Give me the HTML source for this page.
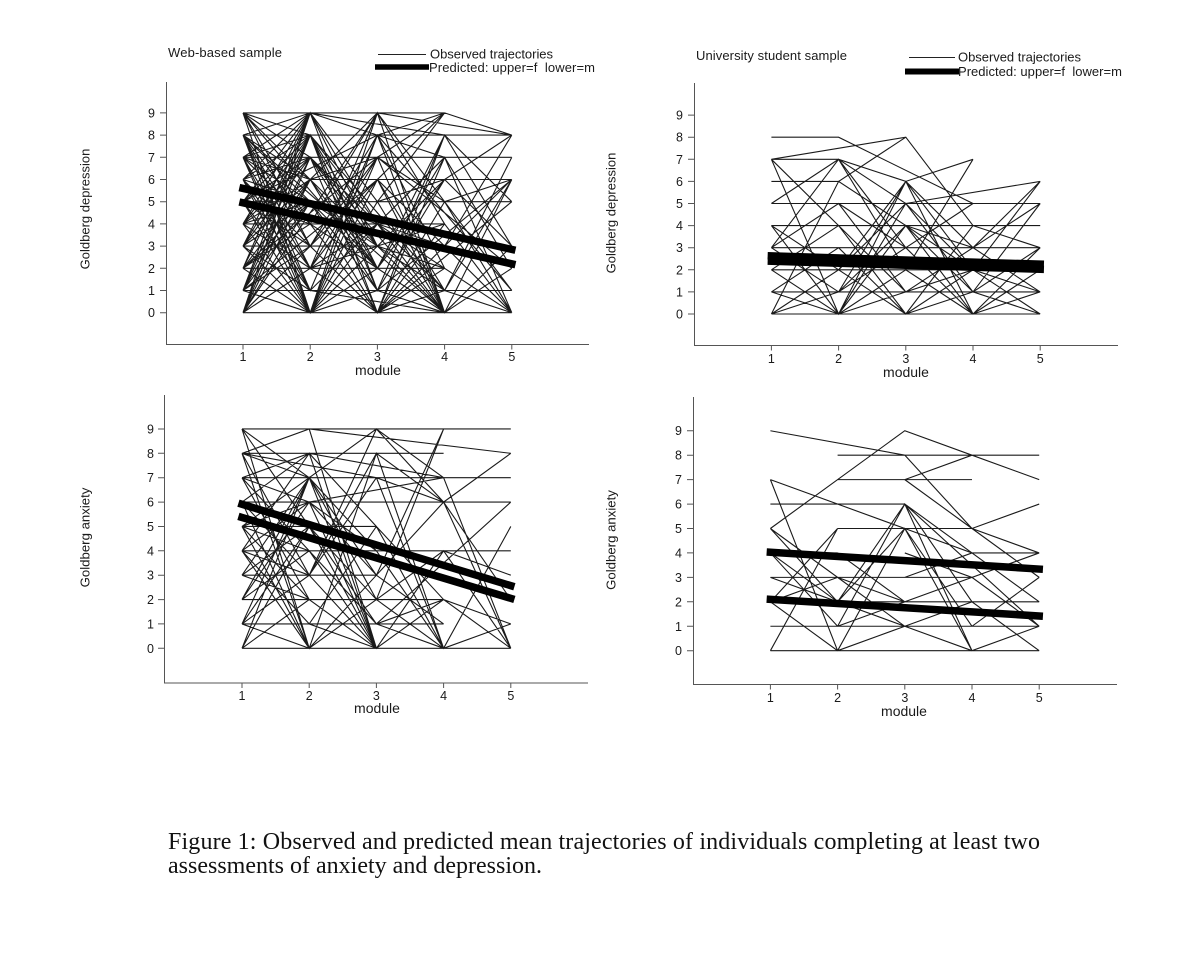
<!DOCTYPE html>
<html><head><meta charset="utf-8"><style>
html,body{margin:0;padding:0;background:#fff;}
svg{display:block;}
text{font-family:"Liberation Sans",Arial,sans-serif;fill:#1a1a1a;}
.cap{font-family:"Liberation Serif","Times New Roman",serif;fill:#111;}
.obs path{fill:none;stroke:#1a1a1a;stroke-width:1.1;vector-effect:non-scaling-stroke;stroke-linejoin:miter;}
.pred{fill:none;stroke:#000;stroke-width:7.5;vector-effect:non-scaling-stroke;stroke-linecap:square;}
.ax{stroke:#555;stroke-width:1;fill:none;}
.tk{font-size:12.5px;}
</style></head><body>
<svg width="1195" height="960" viewBox="0 0 1195 960" xmlns="http://www.w3.org/2000/svg">
<rect width="1195" height="960" fill="#fff"/>

<!-- ================= TOP LEFT ================= -->
<text x="168" y="57" font-size="13" textLength="114" lengthAdjust="spacing">Web-based sample</text>
<line x1="378" y1="54.5" x2="426" y2="54.5" stroke="#222" stroke-width="1"/>
<text x="430" y="58.5" font-size="13" textLength="123" lengthAdjust="spacing">Observed trajectories</text>
<line x1="375" y1="67" x2="429" y2="67" stroke="#000" stroke-width="5.5"/>
<text x="429" y="72" font-size="13" textLength="166" lengthAdjust="spacing">Predicted: upper=f&#160; lower=m</text>

<path class="ax" d="M166.5 82V344.5H589"/>
<path class="ax" d="M160 312.7H166.5M160 290.5H166.5M160 268.3H166.5M160 246.1H166.5M160 223.9H166.5M160 201.7H166.5M160 179.5H166.5M160 157.3H166.5M160 135.1H166.5M160 112.9H166.5M243 344.5V349.5M310.2 344.5V349.5M377.4 344.5V349.5M444.6 344.5V349.5M511.8 344.5V349.5"/>
<g class="tk" text-anchor="end">
<text x="155" y="317.2">0</text><text x="155" y="295">1</text><text x="155" y="272.8">2</text><text x="155" y="250.6">3</text><text x="155" y="228.4">4</text><text x="155" y="206.2">5</text><text x="155" y="184">6</text><text x="155" y="161.8">7</text><text x="155" y="139.6">8</text><text x="155" y="117.4">9</text>
</g>
<g class="tk" text-anchor="middle">
<text x="243" y="361">1</text><text x="310.2" y="361">2</text><text x="377.4" y="361">3</text><text x="444.6" y="361">4</text><text x="511.8" y="361">5</text>
</g>
<text x="378" y="375" font-size="14" text-anchor="middle">module</text>
<text transform="translate(89.5,209) rotate(-90)" font-size="13" text-anchor="middle">Goldberg depression</text>

<g transform="translate(243,312.7) scale(67.2,-22.2)">
<g class="obs"><path d="M0 9L3 9M0 8L4 8M0 7L3 7M1 6L4 6M0 5L4 5M0 4L3 4M0 3L2 3M0 2L3 2M0 1L4 1M0 0L4 0
M0 9L1 0L2 3L3 0L4 2M0 9L1 4L2 9L3 5L4 0M0 9L1 8L2 1L3 6L4 8M0 9L1 7L2 0M0 9L2 2
M0 8L1 0L2 5L3 9M0 8L1 2L2 7L3 0M0 8L1 5L2 0L3 7L4 7M0 8L1 9L2 8L3 9M0 8L1 3L2 6L3 0M0 8L2 0M0 8L3 0
M0 7L1 0L2 8L3 7L4 0M0 7L1 1L2 4L3 0M0 7L1 4L2 0L3 2M0 7L1 6L2 9L3 4L4 0M0 7L1 8L2 2L3 6M0 7L1 9L2 3L3 1L4 6M0 7L2 3
M0 6L1 0L2 6L3 3L4 8M0 6L1 2L2 9L3 0M0 6L1 8L2 4L3 1M0 6L1 3L2 7L3 5L4 0M0 6L2 0M0 6L1 5L2 2L3 8L4 3
M0 5L1 0L2 1L3 0M0 5L1 1L2 8L3 2L4 0M0 5L1 7L2 0L3 8M0 5L1 9L2 5L3 0L4 3M0 5L1 3L2 0M0 5L2 8
M0 4L1 0L2 7L3 9M0 4L1 8L2 0L3 3L4 6M0 4L1 6L2 2L3 0M0 4L1 2L2 6L3 1L4 0M0 4L1 7L2 4L3 7L4 2M0 4L2 0
M0 3L1 0L2 2L3 6M0 3L1 7L2 0L3 4M0 3L1 9L2 4L3 0L4 6M0 3L1 5L2 1L3 0M0 3L1 1L2 8M0 3L2 9
M0 2L1 0L2 9L3 5M0 2L1 6L2 1L3 8L4 5M0 2L1 8L2 3L3 0M0 2L1 4L2 0L3 1L4 7M0 2L2 7
M0 1L1 0L2 4L3 0M0 1L1 5L2 0L3 3M0 1L1 7L2 2L3 7L4 2M0 1L1 9L2 1L3 0M0 1L1 3L2 6M0 1L2 6
M0 0L1 3L2 8L3 0M0 0L1 5L2 0L3 5L4 1M0 0L1 7L2 3L3 2M0 0L1 8L2 1L3 0L4 3M0 0L1 9L2 5L3 6M0 0L1 2L2 0M0 0L2 4M0 0L2 9M0 0L1 6L2 7L3 0
M0 9L1 6M0 8L1 6M0 6L1 9M0 5L1 5M0 4L1 4M0 3L1 3M0 2L1 2M0 1L1 1M0 7L1 5M0 6L1 7
M0 9L1 3M0 8L1 4M0 7L1 2M0 5L1 4M0 4L1 9M0 3L1 8M0 2L1 9M0 1L1 8M0 6L1 1M0 5L1 8M0 4L1 5M0 3L1 6M0 2L1 5M0 1L1 6M0 8L1 1
M1 9L3 8M1 8L3 1M1 7L3 0M1 6L3 0M1 5L3 3L4 0M1 4L3 0M1 3L3 9M1 2L3 4M1 0L3 6L4 8M1 1L3 0
M2 9L4 8M2 7L4 2M2 4L4 0M2 1L4 6M2 0L4 5M2 8L4 1
M3 9L4 8M3 7L4 0M3 5L4 0M3 4L4 0M3 3L4 8M3 2L4 0M3 1L4 7M3 0L4 3M3 6L4 3M3 0L4 6M3 8L4 8M3 5L4 6"/></g>
<path class="pred" d="M0 5.6L4 2.85"/>
<path class="pred" d="M0 4.95L4 2.2"/>
</g>

<!-- ================= TOP RIGHT ================= -->
<text x="696" y="60" font-size="13" textLength="151" lengthAdjust="spacing">University student sample</text>
<line x1="909" y1="57.5" x2="955" y2="57.5" stroke="#222" stroke-width="1"/>
<text x="958" y="61.5" font-size="13" textLength="123" lengthAdjust="spacing">Observed trajectories</text>
<line x1="905" y1="71.5" x2="959" y2="71.5" stroke="#000" stroke-width="6"/>
<text x="958" y="76" font-size="13" textLength="164" lengthAdjust="spacing">Predicted: upper=f&#160; lower=m</text>

<path class="ax" d="M694.5 83V345.5H1118"/>
<path class="ax" d="M688 314H694.5M688 291.9H694.5M688 269.8H694.5M688 247.7H694.5M688 225.6H694.5M688 203.5H694.5M688 181.4H694.5M688 159.3H694.5M688 137.2H694.5M688 115.1H694.5M771.4 345.5V350.5M838.6 345.5V350.5M905.8 345.5V350.5M973 345.5V350.5M1040.2 345.5V350.5"/>
<g class="tk" text-anchor="end">
<text x="683" y="318.5">0</text><text x="683" y="296.4">1</text><text x="683" y="274.3">2</text><text x="683" y="252.2">3</text><text x="683" y="230.1">4</text><text x="683" y="208">5</text><text x="683" y="185.9">6</text><text x="683" y="163.8">7</text><text x="683" y="141.7">8</text><text x="683" y="119.6">9</text>
</g>
<g class="tk" text-anchor="middle">
<text x="771.4" y="363">1</text><text x="838.6" y="363">2</text><text x="905.8" y="363">3</text><text x="973" y="363">4</text><text x="1040.2" y="363">5</text>
</g>
<text x="906" y="377" font-size="14" text-anchor="middle">module</text>
<text transform="translate(615.5,213) rotate(-90)" font-size="13" text-anchor="middle">Goldberg depression</text>

<g transform="translate(771.4,314) scale(67.2,-22.1)">
<g class="obs"><path d="M0 8L1 8L3 5M0 7L2 8L3 4M0 7L1 7L2 6L3 3M0 7L1 0L2 5M0 7L1 4L2 0L3 1M0 6L1 6L2 8
M0 5L1 7L2 3L3 0M0 5L4 5M0 4L3 4M0 4L1 2L2 0L3 4M0 4L1 0L2 2M0 3L4 3M0 3L1 7L2 2L3 0M0 3L1 5L2 1L3 3L4 1M0 3L1 1L2 6L3 3
M0 2L4 2M0 2L1 0L2 6L3 7M0 2L1 4L2 0L3 2L4 6M0 1L4 1M0 1L1 3L2 0L3 4L4 3M0 1L1 0L2 4L3 1L4 0
M0 0L4 0M0 0L1 2L2 5L3 1L4 5M0 0L1 1L2 3L3 0L4 2M0 0L1 6L2 4L3 2
M1 5L2 3L3 0M1 4L2 1L3 2L4 0M1 3L2 0M1 2L2 6M2 5L4 6M2 4L3 3L4 5M1 1L2 4L3 0L4 1
M1 7L2 5L3 2M1 6L2 4M2 6L3 0M2 6L3 2M2 3L3 5M2 2L3 7M2 1L3 3M2 0L3 4M3 4L4 4M3 3L4 6M3 1L4 3M3 0L4 3M3 2L4 1M1 0L2 1L3 2"/></g>
<path class="pred" d="M0 2.63L4 2.255"/>
<path class="pred" d="M0 2.39L4 2.025"/>
</g>

<!-- ================= BOTTOM LEFT ================= -->
<path class="ax" d="M164.5 395V683H588"/>
<path class="ax" d="M158 648.3H164.5M158 623.9H164.5M158 599.6H164.5M158 575.2H164.5M158 550.8H164.5M158 526.5H164.5M158 502.1H164.5M158 477.7H164.5M158 453.3H164.5M158 429H164.5M242 683V688M309.2 683V688M376.4 683V688M443.6 683V688M510.8 683V688"/>
<g class="tk" text-anchor="end">
<text x="154" y="652.8">0</text><text x="154" y="628.4">1</text><text x="154" y="604.1">2</text><text x="154" y="579.7">3</text><text x="154" y="555.3">4</text><text x="154" y="531">5</text><text x="154" y="506.6">6</text><text x="154" y="482.2">7</text><text x="154" y="457.8">8</text><text x="154" y="433.5">9</text>
</g>
<g class="tk" text-anchor="middle">
<text x="242" y="700">1</text><text x="309.2" y="700">2</text><text x="376.4" y="700">3</text><text x="443.6" y="700">4</text><text x="510.8" y="700">5</text>
</g>
<text x="377" y="713" font-size="14" text-anchor="middle">module</text>
<text transform="translate(89.5,537.5) rotate(-90)" font-size="13.2" text-anchor="middle">Goldberg anxiety</text>

<g transform="translate(242,648.3) scale(67.2,-24.37)">
<g class="obs"><path d="M0 9L4 9M0 8L3 8M0 7L4 7M0 6L4 6M0 5L2 5M0 4L4 4M0 3L2 3M0 2L3 2M0 1L3 1M0 0L4 0
M0 9L1 7L2 0M0 9L1 0M0 9L1 5L2 2M0 8L1 9L2 0M0 8L1 7L2 4L3 0M0 8L1 3L2 0M0 8L2 7M0 8L1 0
M1 9L4 8M0 7L1 2L2 0M0 7L1 6L2 3L3 9M0 7L1 4L2 1L3 0M0 7L1 8L3 7
M0 6L1 0L2 3M0 6L1 8L2 5L3 0M0 6L1 3L2 9L3 6L4 0M0 5L1 0L2 8L3 6M0 5L1 6L2 4L3 0M0 5L1 2L2 0M0 5L1 7L2 2L3 4L4 0M0 5L1 4L2 1
M0 4L1 8L2 0M0 4L1 1L2 5L3 2M0 4L1 6L2 4L3 0M0 4L1 3L2 7L3 6L4 8M0 4L1 0M0 3L1 7L2 3L3 1M0 3L1 5L2 0L4 0M0 3L1 2L2 2
M0 2L1 6L2 0L3 4M0 2L1 7L2 4L3 0L4 5M0 2L1 4L2 0M0 1L1 7L2 0M0 1L1 3L2 8L3 0M0 1L1 5L2 1L3 2L4 1
M0 0L1 5L2 0M0 0L1 2L2 2L3 0M0 0L1 7L2 9L3 7M0 1L1 0L2 2L3 9L4 9
M1 8L2 0M1 9L2 0M1 8L2 5L3 0M1 6L3 7M1 3L2 0L3 4L4 0M1 1L2 0L3 2L4 0
M2 9L3 7L4 0M2 8L3 6L4 2M2 7L3 0M2 3L3 6L4 8M2 5L3 0L4 1M2 1L4 6M2 4L3 4L4 3M3 0L4 1M3 4L4 0M1 7L2 3"/></g>
<path class="pred" d="M0 5.91L4 2.57"/>
<path class="pred" d="M0 5.37L4 2.05"/>
</g>

<!-- ================= BOTTOM RIGHT ================= -->
<path class="ax" d="M693.5 397V684.5H1117"/>
<path class="ax" d="M687 650.7H693.5M687 626.3H693.5M687 601.8H693.5M687 577.4H693.5M687 552.9H693.5M687 528.5H693.5M687 504.1H693.5M687 479.6H693.5M687 455.2H693.5M687 430.7H693.5M770.4 684.5V689.5M837.6 684.5V689.5M904.8 684.5V689.5M972 684.5V689.5M1039.2 684.5V689.5"/>
<g class="tk" text-anchor="end">
<text x="682" y="655.2">0</text><text x="682" y="630.8">1</text><text x="682" y="606.3">2</text><text x="682" y="581.9">3</text><text x="682" y="557.4">4</text><text x="682" y="533">5</text><text x="682" y="508.6">6</text><text x="682" y="484.1">7</text><text x="682" y="459.7">8</text><text x="682" y="435.2">9</text>
</g>
<g class="tk" text-anchor="middle">
<text x="770.4" y="702">1</text><text x="837.6" y="702">2</text><text x="904.8" y="702">3</text><text x="972" y="702">4</text><text x="1039.2" y="702">5</text>
</g>
<text x="904" y="716" font-size="14" text-anchor="middle">module</text>
<text transform="translate(615.5,540) rotate(-90)" font-size="13.2" text-anchor="middle">Goldberg anxiety</text>

<g transform="translate(770.4,650.7) scale(67.2,-24.44)">
<g class="obs"><path d="M0 9L2 8L3 5L4 4M1 8L4 8M0 5L2 9L3 8L4 7M1 7L3 7M2 7L3 8M2 7L3 5L4 3M0 6L2 6M2 6L3 0M2 6L4 1M2 6L3 4L4 2
M0 7L1 0M0 7L2 5L3 4L4 4M0 5L1 2L2 6L3 0M0 5L1 3L2 2M0 4L1 2L2 1L3 0M1 5L3 5L4 6M0 2L1 5M0 3L3 3L4 4M0 3L1 2L2 5L3 0
M0 2L1 3L2 3L3 4M0 2L1 0L2 1L3 1M0 1L4 1M0 0L4 0M0 0L1 5M1 1L2 6L3 2L4 0M1 2L2 6L3 0L4 1M1 0L2 5L3 1M1 0L2 1L3 1L4 3
M1 2L4 2M2 1L3 2L4 0M2 4L3 3L4 4M0 4L1 1L2 2M0 4L1 4M1 3L2 1L3 0M1 4L2 2L3 3L4 1"/></g>
<path class="pred" d="M0 4.03L4 3.34"/>
<path class="pred" d="M0 2.1L4 1.42"/>
</g>

<!-- ================= CAPTION ================= -->
<text class="cap" x="168" y="849" font-size="24" textLength="872" lengthAdjust="spacing">Figure 1: Observed and predicted mean trajectories of individuals completing at least two</text>
<text class="cap" x="168" y="873" font-size="24" textLength="374" lengthAdjust="spacing">assessments of anxiety and depression.</text>
</svg>
</body></html>
